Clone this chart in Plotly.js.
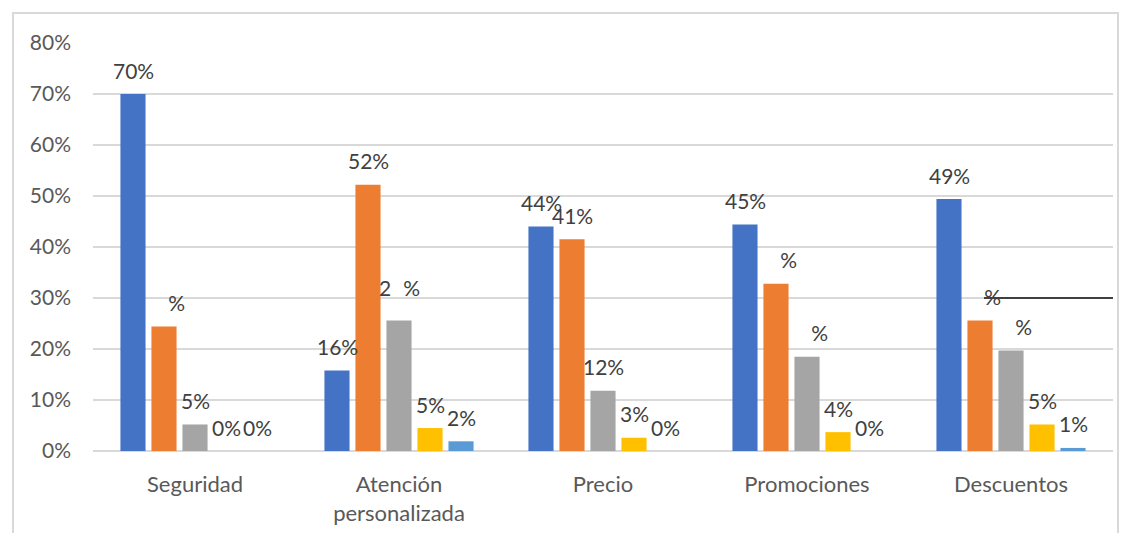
<!DOCTYPE html>
<html>
<head>
<meta charset="utf-8">
<script src="https://cdn.plot.ly/plotly-3.0.1.min.js"></script>
<style>
  html, body { margin: 0; padding: 0; background: #ffffff; }
  #frame { position: absolute; left: 12px; top: 12px; width: 1107px; height: 540px; border: 2px solid #d9d9d9; box-sizing: border-box; }
  #chart { position: absolute; left: 0; top: 0; width: 1128px; height: 533px; }
</style>
</head>
<body>
<div id="frame"></div>
<div id="chart"></div>
<script>
// Categories
const categories = ["Seguridad", "Atención<br>personalizada", "Precio", "Promociones", "Descuentos"];

// Series values (fractions)
const serie1 = [0.70, 0.158, 0.440, 0.444, 0.494];
const serie2 = [0.244, 0.522, 0.415, 0.328, 0.256];
const serie3 = [0.052, 0.256, 0.118, 0.185, 0.197];
const serie4 = [0.0, 0.045, 0.026, 0.037, 0.052];
const serie5 = [0.0, 0.019, 0.0, 0.0, 0.006];

// Data labels as they appear (some digits not visible in the original)
const labels1 = ["70%", "16%", "44%", "45%", "49%"];
const labels2 = ["\u2007\u2007%", "52%", "41%", "\u2007\u2007%", "\u2007\u2007%"];
const labels3 = ["5%", "2\u2007%", "12%", "\u2007\u2007%", "\u2007\u2007%"];
const labels4 = ["0%", "5%", "3%", "4%", "5%"];
const labels5 = ["0%", "2%", "0%", "0%", "1%"];

// Y tick values
const yTicks = [0, 0.1, 0.2, 0.3, 0.4, 0.5, 0.6, 0.7, 0.8];
const yTickText = ["0%", "10%", "20%", "30%", "40%", "50%", "60%", "70%", "80%"];

const seriesValues = [serie1, serie2, serie3, serie4, serie5];
const seriesLabels = [labels1, labels2, labels3, labels4, labels5];
const colors = ["#4472C4", "#ED7D31", "#A5A5A5", "#FFC000", "#5B9BD5"];
const names = ["Serie 1", "Serie 2", "Serie 3", "Serie 4", "Serie 5"];

const FONT = "Lato, 'Open Sans', sans-serif";

const traces = seriesValues.map((vals, i) => ({
  type: "bar",
  x: categories,
  y: vals,
  name: names[i],
  marker: { color: colors[i] },
  hoverinfo: "x+y"
}));

const slotPx = 31;
const annotations = [];
seriesValues.forEach((vals, i) => {
  vals.forEach((v, j) => {
    const t = seriesLabels[i][j];
    if (!t) return;
    let ys = 24;
    if (i === 2 && j === 1) ys = 33;
    annotations.push({
      x: categories[j], y: v, xref: "x", yref: "y",
      text: t, showarrow: false,
      xanchor: "center", yanchor: "middle",
      xshift: (i - 2) * slotPx, yshift: ys,
      font: { family: FONT, size: 21, color: "#404040" }
    });
  });
});

const layout = {
  width: 1128, height: 533,
  margin: { l: 93, r: 15, t: 43, b: 82 },
  paper_bgcolor: "rgba(0,0,0,0)",
  plot_bgcolor: "rgba(0,0,0,0)",
  showlegend: false,
  barmode: "group",
  bargap: 0.24,
  bargroupgap: 0.19,
  font: { family: FONT, size: 21, color: "#595959" },
  xaxis: {
    type: "category",
    showgrid: false, zeroline: false, showline: false,
    ticks: "", ticklabelstandoff: 18,
    tickfont: { family: FONT, size: 22, color: "#595959" }
  },
  yaxis: {
    range: [0, 0.8],
    tickvals: yTicks, ticktext: yTickText,
    showgrid: true, gridcolor: "#d9d9d9", gridwidth: 2,
    zeroline: true, zerolinecolor: "#d9d9d9", zerolinewidth: 2,
    showline: false, ticks: "", ticklabelstandoff: 21,
    tickfont: { family: FONT, size: 21, color: "#595959" }
  },
  annotations: annotations,
  shapes: [{
    type: "line", xref: "paper", yref: "y",
    x0: 0.8735, x1: 1.0, y0: 0.3, y1: 0.3,
    line: { color: "#404040", width: 2 }
  }]
};

Plotly.newPlot("chart", traces, layout, { displayModeBar: false, staticPlot: true });
</script>
</body>
</html>
